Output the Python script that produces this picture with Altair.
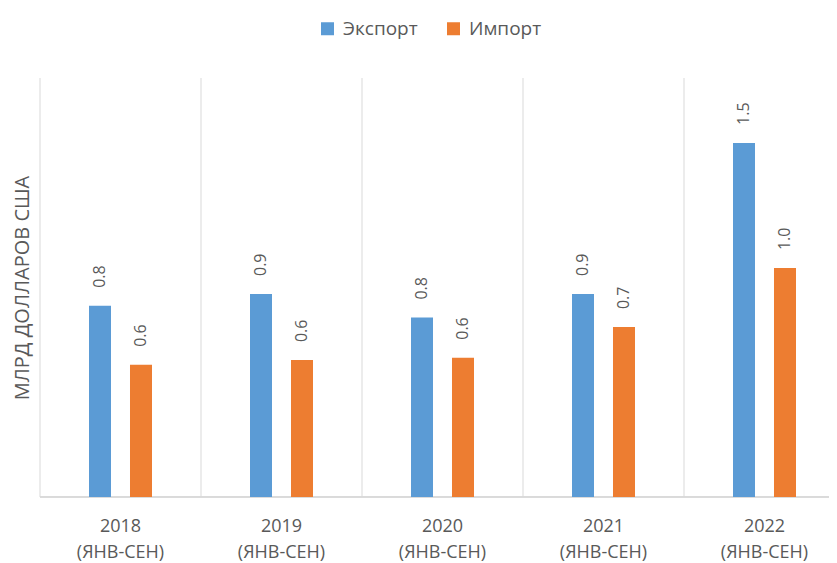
import altair as alt
import pandas as pd

FONT = "Open Sans"
GRAY = "#595959"
GRID = "#D9D9D9"

periods = ["2018\n(ЯНВ-СЕН)", "2019\n(ЯНВ-СЕН)", "2020\n(ЯНВ-СЕН)",
           "2021\n(ЯНВ-СЕН)", "2022\n(ЯНВ-СЕН)"]
series = ["Экспорт", "Импорт"]
colors = ["#5B9BD5", "#ED7D31"]
export_vals = [0.81, 0.86, 0.76, 0.86, 1.50]
import_vals = [0.56, 0.58, 0.59, 0.72, 0.97]

rows = []
for p, e, i in zip(periods, export_vals, import_vals):
    rows.append({"period": p, "series": series[0], "value": e})
    rows.append({"period": p, "series": series[1], "value": i})
df = pd.DataFrame(rows)
df_periods = pd.DataFrame({"period": periods})

W, H = 789, 419
STEP = 161
PAD_INNER = 5 - W / STEP          # makes each category step 161px wide
BANDWIDTH = STEP * (1 - PAD_INNER)
LABEL_SHIFT = STEP / 2 - BANDWIDTH / 2

x_scale = alt.Scale(domain=periods, paddingInner=PAD_INNER, paddingOuter=0)
x_axis = alt.Axis(
    title=None, labelAngle=0, labelExpr="split(datum.label, '\\n')",
    grid=False, ticks=False, domain=False, labelOffset=LABEL_SHIFT,
    labelFont=FONT, labelFontSize=18, labelColor=GRAY,
    labelPadding=20, labelLineHeight=26, labelBaseline="top",
    labelOverlap=False,
)
x = alt.X("period:N", sort=periods, scale=x_scale, axis=x_axis)
xo = alt.XOffset("series:N", sort=series,
                 scale=alt.Scale(domain=series, range=[49, 112],
                                 paddingInner=0.4634, paddingOuter=0))
y = alt.Y(
    "value:Q",
    scale=alt.Scale(domain=[0, 1.775], nice=False, zero=True),
    axis=alt.Axis(
        title="МЛРД ДОЛЛАРОВ США", labels=False, ticks=False, domain=False,
        grid=False, titleX=-18, titleY=H / 2, titleAngle=270,
        titleAlign="center", titleBaseline="middle", titleFont=FONT,
        titleFontSize=20, titleColor=GRAY, titleFontWeight="normal",
    ),
)

# vertical separators at the start of each category
separators = alt.Chart(df_periods).mark_rule(color=GRID, strokeWidth=1).encode(
    x=alt.X("period:N", sort=periods, scale=x_scale, axis=x_axis,
            bandPosition=0),
    y=alt.value(0), y2=alt.value(H),
)
# baseline
baseline = alt.Chart(df_periods).mark_rule(color=GRID, strokeWidth=1).encode(
    x=alt.value(0), x2=alt.value(W), y=alt.value(H),
)

bars = alt.Chart(df).mark_bar().encode(
    x=x, xOffset=xo, y=y,
    color=alt.Color(
        "series:N", sort=series,
        scale=alt.Scale(domain=series, range=colors),
        legend=alt.Legend(
            title=None, orient="none", legendX=278, legendY=-59,
            direction="horizontal", symbolType="square", symbolSize=169,
            symbolStrokeWidth=0, labelFontSize=19, labelColor=GRAY,
            labelFont=FONT, columnPadding=26, labelOffset=6, padding=0,
        ),
    ),
)

labels = alt.Chart(df).mark_text(
    angle=270, align="left", baseline="middle", dx=18,
    fontSize=16, color=GRAY, font=FONT,
).encode(x=x, xOffset=xo, y=y, text=alt.Text("value:Q", format=".1f"))

chart = (
    alt.layer(separators, baseline, bars, labels)
    .properties(
        width=W, height=H, autosize="none",
        padding={"left": 32, "top": 70, "right": 0, "bottom": 64},
    )
    .configure_view(stroke=None)
)

chart.save("out.html", embed_options={"renderer": "svg", "actions": False})
